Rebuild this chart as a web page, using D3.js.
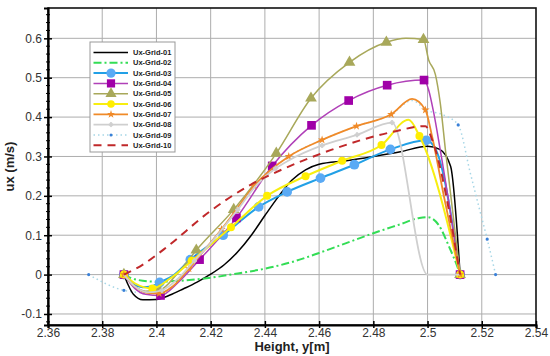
<!DOCTYPE html>
<html>
<head>
<meta charset="utf-8">
<script src="https://cdn.jsdelivr.net/npm/d3@7"></script>
<style>
  body { margin: 0; background: #fff; }
  svg { font-family: "Liberation Sans", Arial, sans-serif; }
</style>
</head>
<body>
<div id="chart"></div>
<script>
// series data: [height, ux]
const grid01 = [[2.388,0],[2.3895,-0.025],[2.3915,-0.05],[2.395,-0.064],[2.4,-0.063],[2.405,-0.052],[2.41,-0.036],[2.415,-0.019],[2.42,0.001],[2.425,0.025],[2.43,0.058],[2.435,0.1],[2.44,0.15],[2.445,0.198],[2.45,0.24],[2.455,0.266],[2.46,0.28],[2.47,0.289],[2.48,0.3],[2.49,0.312],[2.5,0.326],[2.5045,0.318],[2.5085,0.275],[2.512,0]];
const grid02 = [[2.388,0],[2.392,-0.012],[2.4,-0.018],[2.41,-0.015],[2.42,-0.008],[2.43,0.003],[2.44,0.015],[2.45,0.032],[2.46,0.055],[2.47,0.08],[2.48,0.105],[2.49,0.128],[2.497,0.144],[2.5,0.146],[2.504,0.127],[2.508,0.07],[2.511,0.02],[2.512,0]];
const grid03 = [[2.388,0],[2.391,-0.022],[2.395,-0.032],[2.398,-0.03],[2.4012,-0.02],[2.406,-0.003],[2.4125,0.038],[2.4246,0.1],[2.4377,0.172],[2.4482,0.21],[2.4605,0.245],[2.473,0.279],[2.4863,0.318],[2.4995,0.341],[2.503,0.318],[2.512,0]];
const grid04 = [[2.388,0],[2.392,-0.035],[2.396,-0.05],[2.4015,-0.053],[2.408,-0.02],[2.4159,0.038],[2.4295,0.144],[2.4427,0.276],[2.4572,0.379],[2.4709,0.442],[2.4851,0.481],[2.4987,0.494],[2.5004,0.469],[2.5023,0.41],[2.5047,0.316],[2.512,0]];
const grid05 = [[2.388,0],[2.392,-0.03],[2.396,-0.042],[2.401,-0.04],[2.408,0.005],[2.4147,0.062],[2.4285,0.165],[2.4442,0.308],[2.457,0.448],[2.4712,0.539],[2.4848,0.59],[2.492,0.6],[2.4985,0.597],[2.5004,0.545],[2.5029,0.508],[2.5047,0.435],[2.5066,0.316],[2.512,0]];
const grid06 = [[2.388,0],[2.392,-0.022],[2.3985,-0.035],[2.405,-0.01],[2.413,0.035],[2.4275,0.12],[2.4408,0.2],[2.455,0.25],[2.4685,0.289],[2.483,0.329],[2.493,0.393],[2.497,0.352],[2.512,0]];
const grid07 = [[2.388,0],[2.392,-0.03],[2.397,-0.047],[2.401,-0.048],[2.406,-0.03],[2.412,0.015],[2.418,0.065],[2.424,0.115],[2.43,0.17],[2.436,0.225],[2.4488,0.3],[2.4611,0.342],[2.4738,0.377],[2.4866,0.407],[2.4943,0.446],[2.4992,0.418],[2.5017,0.35],[2.506,0.2],[2.512,0]];
const grid08 = [[2.388,0],[2.392,-0.03],[2.397,-0.045],[2.402,-0.04],[2.408,-0.01],[2.414,0.035],[2.42,0.08],[2.43,0.165],[2.437,0.228],[2.444,0.27],[2.4488,0.29],[2.4611,0.328],[2.474,0.355],[2.4869,0.386],[2.5,0],[2.512,0]];
const grid09 = [[2.375,0],[2.388,-0.04],[2.397,-0.047],[2.401,-0.048],[2.406,-0.03],[2.412,0.015],[2.418,0.065],[2.424,0.115],[2.43,0.17],[2.436,0.225],[2.4488,0.3],[2.4611,0.342],[2.4738,0.377],[2.4866,0.407],[2.4943,0.442],[2.4995,0.418],[2.506,0.405],[2.5113,0.38],[2.5158,0.257],[2.5189,0.173],[2.522,0.09],[2.5251,0]];
const grid10 = [[2.388,0],[2.394,0.021],[2.4027,0.064],[2.42,0.162],[2.4347,0.228],[2.4457,0.265],[2.455,0.292],[2.4642,0.316],[2.4869,0.362],[2.4992,0.377],[2.5017,0.342],[2.512,0]];

// which points carry a symbol
const marks03 = [2.388,2.4012,2.4125,2.4246,2.4377,2.4482,2.4605,2.473,2.4863,2.4995,2.512];
const marks04 = [2.388,2.4015,2.4159,2.4295,2.4427,2.4572,2.4709,2.4851,2.4987,2.512];
const marks05 = [2.388,2.401,2.4147,2.4285,2.4442,2.457,2.4712,2.4848,2.4985,2.512];
const marks06 = [2.388,2.3985,2.413,2.4275,2.4408,2.455,2.4685,2.483,2.497,2.512];
const marks07 = [2.388,2.401,2.412,2.424,2.436,2.4488,2.4611,2.4738,2.4866,2.4992,2.512];
const marks08 = [2.402,2.414,2.43,2.444,2.4611,2.474,2.4869];
const marks09 = [2.375,2.388,2.5113,2.522,2.5251];

const seriesNames = ["Ux-Grid-01","Ux-Grid-02","Ux-Grid-03","Ux-Grid-04","Ux-Grid-05","Ux-Grid-06","Ux-Grid-07","Ux-Grid-08","Ux-Grid-09","Ux-Grid-10"];

const xTicks = [2.36,2.38,2.4,2.42,2.44,2.46,2.48,2.5,2.52,2.54];
const xTickLabels = ["2.36","2.38","2.4","2.42","2.44","2.46","2.48","2.5","2.52","2.54"];
const yTicks = [-0.1,0,0.1,0.2,0.3,0.4,0.5,0.6];
const yTickLabels = ["-0.1","0","0.1","0.2","0.3","0.4","0.5","0.6"];

const series = [
  { name: seriesNames[0], data: grid01, marks: [], color: "#000", width: 1.5, dash: null, z: 1 },
  { name: seriesNames[1], data: grid02, marks: [], color: "#33dd55", width: 2, dash: "8,3,2,3", z: 2 },
  { name: seriesNames[2], data: grid03, marks: marks03, color: "#22a0e6", width: 2, dash: null, sym: d3.symbolCircle, size: 75, fill: "#5aaaf5", z: 3 },
  { name: seriesNames[3], data: grid04, marks: marks04, color: "#b040b8", width: 1.5, dash: null, sym: d3.symbolSquare, size: 75, fill: "#a000a8", z: 4 },
  { name: seriesNames[4], data: grid05, marks: marks05, color: "#a8a85a", width: 1.5, dash: null, sym: d3.symbolTriangle, size: 60, fill: "#a8a85a", z: 5 },
  { name: seriesNames[5], data: grid06, marks: marks06, color: "#f7ee10", width: 2, dash: null, sym: d3.symbolCircle, size: 50, fill: "#ffee00", z: 6 },
  { name: seriesNames[6], data: grid07, marks: marks07, color: "#f08a28", width: 1.8, dash: null, sym: d3.symbolStar, size: 22, fill: "#f08a28", z: 7 },
  { name: seriesNames[7], data: grid08, marks: marks08, color: "#cfcfcf", width: 1.8, dash: null, sym: d3.symbolCross, size: 10, fill: "#cfcfcf", z: 8 },
  { name: seriesNames[8], data: grid09, marks: marks09, color: "#a6d6e6", width: 1.5, dash: "1.5,3", sym: d3.symbolCircle, size: 8, fill: "#3a80d8", z: 0 },
  { name: seriesNames[9], data: grid10, marks: [], color: "#c0282a", width: 2, dash: "8,6", z: 9 }
];

const width = 550, height = 356;
const margin = { top: 8, right: 14, bottom: 31, left: 48 };

const svg = d3.select('#chart').append('svg')
  .attr('width', width)
  .attr('height', height);

const x = d3.scaleLinear().domain([2.36, 2.54]).range([margin.left, width - margin.right]);
const y = d3.scaleLinear().domain([-0.128, 0.677]).range([height - margin.bottom, margin.top]);

// grid
svg.append('g').selectAll('line.vx')
  .data(xTicks.slice(1, -1)).enter().append('line')
  .attr('x1', d => x(d)).attr('x2', d => x(d))
  .attr('y1', y.range()[0]).attr('y2', y.range()[1])
  .attr('stroke', '#adadad').attr('stroke-width', 1);
svg.append('g').selectAll('line.hy')
  .data(yTicks).enter().append('line')
  .attr('x1', x.range()[0]).attr('x2', x.range()[1])
  .attr('y1', d => y(d)).attr('y2', d => y(d))
  .attr('stroke', '#adadad').attr('stroke-width', 1);

// series
const line = d3.line()
  .x(d => x(d[0]))
  .y(d => y(d[1]))
  .curve(d3.curveMonotoneX);

const plot = svg.append('g');
series.slice().sort((a, b) => a.z - b.z).forEach(s => {
  plot.append('path')
    .datum(s.data)
    .attr('d', line)
    .attr('fill', 'none')
    .attr('stroke', s.color)
    .attr('stroke-width', s.width)
    .attr('stroke-dasharray', s.dash);
  if (s.marks.length) {
    const pts = s.data.filter(d => s.marks.includes(d[0]));
    plot.append('g').selectAll('path')
      .data(pts).enter().append('path')
      .attr('transform', d => `translate(${x(d[0])},${y(d[1])})`)
      .attr('d', d3.symbol().type(s.sym).size(s.size))
      .attr('fill', s.fill)
      .attr('stroke', s.sym === d3.symbolCross ? s.fill : 'none');
  }
});

// frame
svg.append('rect')
  .attr('x', x.range()[0]).attr('y', y.range()[1])
  .attr('width', x.range()[1] - x.range()[0])
  .attr('height', y.range()[0] - y.range()[1])
  .attr('fill', 'none').attr('stroke', '#111').attr('stroke-width', 1.6);

// axes
const xAxis = svg.append('g')
  .attr('transform', `translate(0,${y.range()[0]})`)
  .call(d3.axisBottom(x).tickValues(xTicks).tickFormat((d, i) => xTickLabels[i]).tickSize(3).tickPadding(2));
const yAxis = svg.append('g')
  .attr('transform', `translate(${x.range()[0]},0)`)
  .call(d3.axisLeft(y).tickValues(yTicks).tickFormat((d, i) => yTickLabels[i]).tickSize(4).tickPadding(2));

[xAxis, yAxis].forEach(a => {
  a.select('.domain').attr('stroke', '#000').attr('stroke-width', 2.2);
  a.selectAll('.tick line').attr('stroke', '#000').attr('stroke-width', 1.5);
  a.selectAll('.tick text').attr('font-size', 12).attr('fill', '#333')
    .attr('font-family', '"Liberation Sans", Arial, sans-serif');
});
xAxis.selectAll('.tick text').attr('dy', '0.6em');
// inward half of major ticks
xAxis.selectAll('.tick').append('line').attr('y2', -4).attr('stroke', '#000').attr('stroke-width', 1.5);
yAxis.selectAll('.tick').append('line').attr('x2', 4).attr('stroke', '#000').attr('stroke-width', 1.5);

// minor ticks on y
const yMinor = d3.range(-0.12, 0.67, 0.02).filter(v => Math.abs(Math.round(v * 10) - v * 10) > 0.05);
svg.append('g').selectAll('line')
  .data(yMinor).enter().append('line')
  .attr('x1', x.range()[0] - 2).attr('x2', x.range()[0] + 2)
  .attr('y1', d => y(d)).attr('y2', d => y(d))
  .attr('stroke', '#000').attr('stroke-width', 1);

// axis titles
svg.append('text')
  .attr('x', (x.range()[0] + x.range()[1]) / 2)
  .attr('y', 351)
  .attr('text-anchor', 'middle')
  .attr('font-size', 13).attr('font-weight', 'bold').attr('fill', '#222')
  .text('Height, y[m]');
svg.append('text')
  .attr('transform', `translate(14,${(y.range()[0] + y.range()[1]) / 2}) rotate(-90)`)
  .attr('text-anchor', 'middle')
  .attr('font-size', 13).attr('font-weight', 'bold').attr('fill', '#222')
  .text('ux (m/s)');

// legend
const legend = svg.append('g').attr('transform', 'translate(90,42)');
legend.append('rect')
  .attr('width', 85).attr('height', 110)
  .attr('fill', '#fff').attr('stroke', '#999').attr('stroke-width', 1);
const item = legend.selectAll('g.item')
  .data(series).enter().append('g')
  .attr('transform', (d, i) => `translate(0,${10.5 + i * 10.3})`);
item.append('line')
  .attr('x1', 3.5).attr('x2', 38)
  .attr('stroke', d => d.color)
  .attr('stroke-width', d => d.width)
  .attr('stroke-dasharray', d => d.dash);
item.filter(d => d.sym).append('path')
  .attr('transform', 'translate(21,0)')
  .attr('d', d => d3.symbol().type(d.sym).size(d.size * 0.9)())
  .attr('fill', d => d.fill)
  .attr('stroke', d => d.sym === d3.symbolCross ? d.fill : 'none');
item.append('text')
  .attr('x', 43).attr('dy', '0.35em')
  .attr('font-size', 7.5).attr('font-weight', 'bold').attr('fill', '#222')
  .text(d => d.name);
</script>
</body>
</html>
